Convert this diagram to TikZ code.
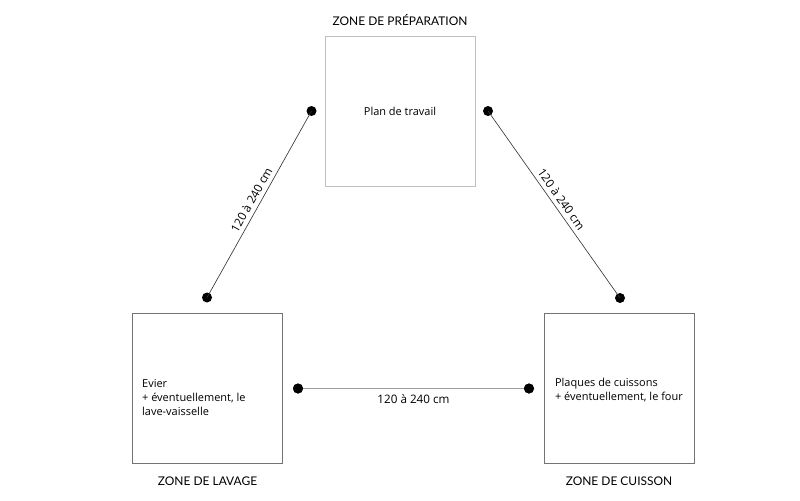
\documentclass[tikz,border=0pt]{standalone}
\usepackage{fontspec}
\setmainfont{Open Sans}
\newfontfamily\titrefont{Lato}
\usetikzlibrary{positioning}

\begin{document}
\begin{tikzpicture}[x=0.025cm,y=-0.025cm]

    % styles
    \tikzstyle{zone} = [draw=black!45,line width=0.6pt,minimum width=3.75cm,minimum height=3.75cm,inner sep=0pt]
    \tikzstyle{zonetitre} = [font=\titrefont\fontsize{8.5}{10}\selectfont,inner sep=0pt]
    \tikzstyle{texte} = [font=\fontsize{7.8}{10}\selectfont,align=left,inner sep=0pt]
    \tikzstyle{pt} = [circle,fill=black,minimum size=0.25cm,inner sep=0pt]
    \tikzstyle{cote} = [draw=black!80,line width=0.45pt]
    \tikzstyle{coteh} = [draw=black!38,line width=1.1pt]
    \tikzstyle{dist} = [font=\fontsize{8.3}{10}\selectfont,inner sep=3pt]

    \useasboundingbox (0,0) rectangle (800,500);

    % zones
    \node[zone,draw=black!25] (prep) at (400,111) {};
    \node[zone,draw=black!55] (lav) at (207.5,388) {};
    \node[zone,draw=black!55] (cuis) at (619,388) {};

    % titres
    \node[zonetitre,above=7pt of prep.north] (tprep) {ZONE DE PRÉPARATION};
    \node[zonetitre,below=9pt of lav.south] (tlav) {ZONE DE LAVAGE};
    \node[zonetitre,below=9pt of cuis.south] (tcuis) {ZONE DE CUISSON};

    % contenu
    \node[texte] (xprep) at (prep.center) {Plan de travail};
    \node[texte,anchor=west] (xlav) at ([xshift=7pt,yshift=-6.5pt]lav.west)
        {Evier\\+ éventuellement, le\\lave-vaisselle};
    \node[texte,anchor=west] (xcuis) at ([xshift=8pt,yshift=-1.5pt]cuis.west)
        {Plaques de cuissons\\+ éventuellement, le four};

    % points
    \node[pt] (p1) at (311.5,111) {};
    \node[pt] (p2) at (207,297.5) {};
    \node[pt] (p3) at (488,111) {};
    \node[pt] (p4) at (620,298) {};
    \node[pt] (p5) at (298,388.5) {};
    \node[pt] (p6) at (529,388.5) {};

    % distances
    \draw[cote] (p2.center) -- (p1.center)
        node[dist,midway,sloped,above] {120 à 240 cm};
    \draw[cote] (p3.center) -- (p4.center)
        node[dist,midway,sloped,above] {120 à 240 cm};
    \draw[coteh] (p5) -- (p6)
        node[dist,midway,below,yshift=-1pt,text=black] {120 à 240 cm};
    \node[pt] at (p5) {};
    \node[pt] at (p6) {};
\end{tikzpicture}
\end{document}
